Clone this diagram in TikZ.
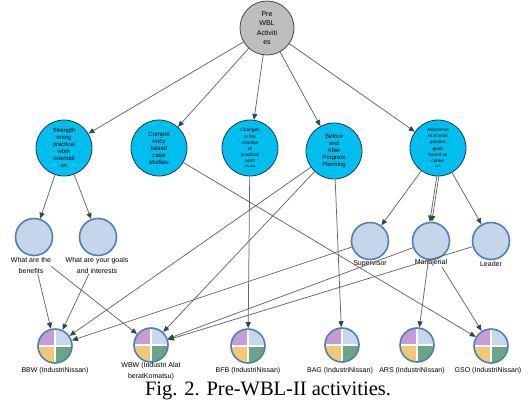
\documentclass[tikz,border=0pt]{standalone}
\usepackage{fontspec}
\setmainfont{Liberation Sans}
\newfontfamily\capfont{Liberation Serif}
\usetikzlibrary{arrows.meta}
\definecolor{linec}{HTML}{666666}
\definecolor{tipc}{HTML}{2F4A44}
\definecolor{greyfill}{HTML}{BDBDBD}
\definecolor{greyedge}{HTML}{4A4A4A}
\definecolor{cyanfill}{HTML}{00BFEF}
\definecolor{cyanedge}{HTML}{1E3A50}
\definecolor{lbfill}{HTML}{C6D6EA}
\definecolor{lbedge}{HTML}{4F7FBA}
\definecolor{pieA}{HTML}{C79BD6}
\definecolor{pieB}{HTML}{C6D9EC}
\definecolor{pieC}{HTML}{F1C878}
\definecolor{pieD}{HTML}{6CA488}
\tikzset{
  topnode/.style={circle, draw=greyedge, line width=0.8pt, fill=greyfill, minimum size=54pt, inner sep=0pt, align=center, font=\fontsize{7}{9.4}\selectfont},
  cyannode/.style={circle, draw=cyanedge, line width=0.8pt, fill=cyanfill, minimum size=56pt, inner sep=0pt, align=center},
  lbnode/.style={circle, draw=lbedge, line width=1.6pt, fill=lbfill, minimum size=37pt, inner sep=0pt},
  pienode/.style={circle, draw=lbedge, line width=1.6pt, minimum size=34pt, inner sep=0pt,
    path picture={
      \fill[pieA] (path picture bounding box.center) rectangle (path picture bounding box.north west);
      \fill[pieB] (path picture bounding box.center) rectangle (path picture bounding box.north east);
      \fill[pieC] (path picture bounding box.center) rectangle (path picture bounding box.south west);
      \fill[pieD] (path picture bounding box.center) rectangle (path picture bounding box.south east);
      \draw[white, line width=1.6pt] (path picture bounding box.north) -- (path picture bounding box.south);
      \draw[white, line width=1.6pt] (path picture bounding box.west) -- (path picture bounding box.east);
    }},
  lab/.style={inner sep=0.5pt, align=center, font=\fontsize{7}{11}\selectfont},
  arr/.style={draw=linec, line width=0.75pt, -{Triangle[length=6pt,width=5pt,color=tipc]}},
  plain/.style={draw=linec, line width=0.75pt}
}
\begin{document}
\begin{tikzpicture}[x=1pt,y=-1pt]
\useasboundingbox (0,0) rectangle (528,405);
% top
\node[topnode] (top) at (267,28) {Pre\\WBL\\Activiti\\es};
% level 2
\node[cyannode, font=\fontsize{6}{7}\selectfont] (str) at (64,148) {Strength\\ening\\practical\\work\\orientati\\on};
\node[cyannode, font=\fontsize{6.2}{7}\selectfont] (comp) at (159,148) {Compet\\ency\\based\\case\\studies};
\node[cyannode, font=\fontsize{4.8}{6.2}\selectfont] (chg) at (250,148) {Changes\\in the\\mindset\\of\\practical\\work\\[-1.5pt]{\fontsize{3}{3}\selectfont attitudes}};
\node[cyannode, font=\fontsize{6}{7}\selectfont] (ba) at (334,151) {Before\\and\\After\\Program\\Planning};
\node[cyannode, font=\fontsize{4.6}{6.2}\selectfont] (adj) at (438,148) {Adjusteme\\nt of work\\practice\\goals\\based on\\career\\[-1.5pt]{\fontsize{3}{3}\selectfont path}};
% level 3
\node[lbnode] (ben) at (34,237) {};
\node[lbnode] (goal) at (98,237) {};
\node[lbnode] (sup) at (370,241) {};
\node[lbnode] (man) at (431,241) {};
\node[lbnode] (lead) at (491,241) {};
\node[lab] (benl) at (31,265) {What are the\\benefits};
\node[lab] (goall) at (97,265) {What are your goals\\and interests};
\node[lab] (supl) at (370,264) {Supervisor};
\node[lab] (manl) at (431,263) {Manajerial};
\node[lab] (leadl) at (491,264) {Leader};
% level 4
\node[pienode] (bbw) at (55,346) {};
\node[pienode] (wbw) at (151,345) {};
\node[pienode] (bfb) at (248,346) {};
\node[pienode] (bag) at (342,345) {};
\node[pienode] (ars) at (417,345) {};
\node[pienode] (gso) at (491,346) {};
\node[lab] (bbwl) at (55,371) {BBW (IndustriNissan)};
\node[lab] (wbwl) at (151,371) {WBW (Industri Alat\\beratKomatsu)};
\node[lab] (bfbl) at (248,371) {BFB (IndustriNissan)};
\node[lab] (bagl) at (340,371) {BAG (IndustriNissan)};
\node[lab] (arsl) at (412,371) {ARS (IndustriNissan)};
\node[lab] (gsol) at (488,371) {GSO (IndustriNissan)};
% caption
\node[font=\capfont\fontsize{20.5}{22}\selectfont, inner sep=0pt] (cap) at (268,391) {Fig. 2. Pre-WBL-II activities.};
% edges from top
\draw[arr] (top) -- (str);
\draw[arr] (top) -- (comp);
\draw[arr] (top) -- (chg);
\draw[arr] (top) -- (ba);
\draw[arr] (top) -- (adj);
% level 2 -> level 3
\draw[arr] (str) -- (ben);
\draw[arr] (str) -- (goal);
\draw[arr] (adj) -- (sup);
\draw[arr] ([xshift=-1.2pt]adj.south) -- ([xshift=-1.2pt]man.north);
\draw[arr] ([xshift=0.8pt]adj.south) -- ([xshift=0.8pt]man.north);
\draw[arr] (adj) -- (lead);
% to level 4
\draw[arr] (benl.south east) ++(-14,0) coordinate (b1) (b1) -- (bbw);
\draw[arr] (goall.south) ++(-8,0) coordinate (g1) (g1) -- (bbw);
\draw[arr] (benl.east) ++(-1,1) coordinate (b2) (b2) -- (wbw);
\draw[arr] (comp) -- (gso);
\draw[arr] (chg) -- (bfb);
\draw[arr] (ba) -- (bbw);
\draw[arr] (ba) -- (wbw);
\draw[arr] (ba) -- (bag);
\draw[arr] (sup) -- (bbw);
\draw[arr] (man) -- (wbw);
\draw[arr] (lead) -- (wbw);
\draw[arr] (man) -- (ars);
\draw[arr] (manl.south east) ++(-6,0) coordinate (m1) (m1) -- (gso);
\end{tikzpicture}
\end{document}
